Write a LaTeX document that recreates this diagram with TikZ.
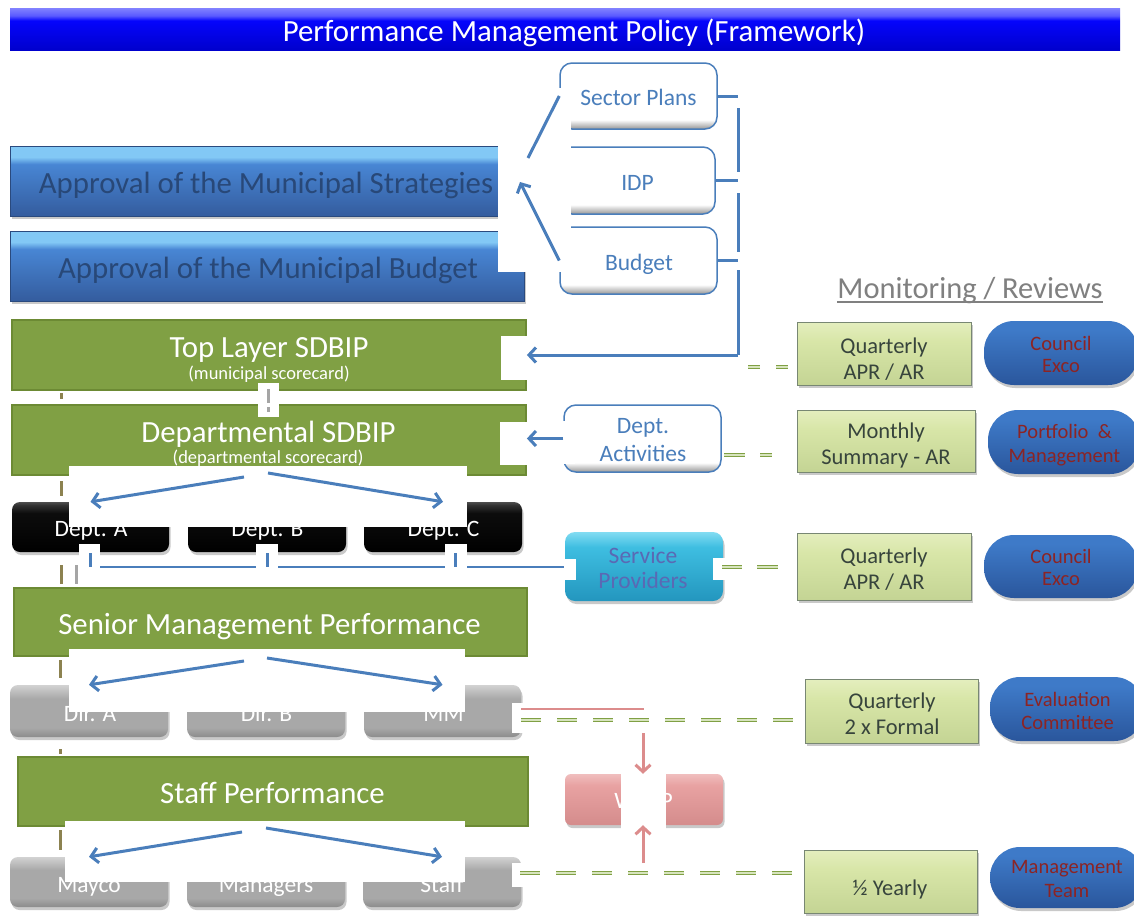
\documentclass[tikz,border=0pt]{standalone}
\usepackage{fontspec}
\setmainfont{Carlito}
\usetikzlibrary{shadows,arrows.meta}
\newcommand\fsz[2]{\fontsize{#1}{#2}\selectfont}
\newcommand\twoln[1]{\begin{tabular}[t]{@{}c@{}}#1\end{tabular}}
\definecolor{bnA}{RGB}{0,0,205}
\definecolor{bnB}{RGB}{5,5,252}
\definecolor{bnC}{RGB}{90,90,255}
\definecolor{bnD}{RGB}{130,130,255}
\definecolor{apA}{RGB}{52,92,158}
\definecolor{apB}{RGB}{72,134,212}
\definecolor{apC}{RGB}{130,200,245}
\definecolor{apT}{RGB}{40,72,120}
\definecolor{grA}{RGB}{128,160,68}
\definecolor{grB}{RGB}{108,138,52}
\definecolor{grL}{RGB}{215,228,190}
\definecolor{lnB}{RGB}{74,126,187}
\definecolor{lgA}{RGB}{196,212,148}
\definecolor{lgB}{RGB}{216,230,168}
\definecolor{lgC}{RGB}{228,238,190}
\definecolor{lgE}{RGB}{120,135,115}
\definecolor{lgT}{RGB}{55,68,60}
\definecolor{plA}{RGB}{42,86,156}
\definecolor{plB}{RGB}{62,122,200}
\definecolor{plT}{RGB}{140,36,36}
\definecolor{cyA}{RGB}{35,150,190}
\definecolor{cyB}{RGB}{62,190,225}
\definecolor{cyC}{RGB}{130,220,242}
\definecolor{cyT}{RGB}{90,105,180}
\definecolor{pkA}{RGB}{212,140,140}
\definecolor{pkB}{RGB}{232,162,162}
\definecolor{pkC}{RGB}{240,190,190}
\definecolor{pkL}{RGB}{220,140,140}
\definecolor{gyA}{RGB}{140,140,140}
\definecolor{gyB}{RGB}{168,168,168}
\definecolor{gyC}{RGB}{210,210,210}
\definecolor{tkO}{RGB}{140,130,80}
\definecolor{tkG}{RGB}{165,165,165}
\definecolor{moT}{RGB}{128,128,128}
\definecolor{wsh}{RGB}{150,150,150}
\pgfdeclareverticalshading{bannershade}{100bp}{color(0bp)=(bnA); color(25bp)=(bnA); color(60bp)=(bnB); color(66bp)=(bnC); color(75bp)=(bnD); color(100bp)=(bnD)}
\pgfdeclareverticalshading{apshade}{100bp}{color(0bp)=(apA); color(25bp)=(apA); color(62bp)=(apB); color(67bp)=(apC); color(75bp)=(apC); color(100bp)=(apC)}
\pgfdeclareverticalshading{wshade}{100bp}{color(0bp)=(wsh); color(25bp)=(wsh); color(32bp)=(white); color(100bp)=(white)}
\pgfdeclareverticalshading{blkshade}{100bp}{color(0bp)=(black); color(25bp)=(black); color(64bp)=(black!95!white); color(72bp)=(black!80!white); color(75bp)=(black!70!white); color(100bp)=(black!70!white)}
\pgfdeclareverticalshading{gyshade}{100bp}{color(0bp)=(gyA); color(25bp)=(gyA); color(34bp)=(gyB); color(62bp)=(gyB); color(75bp)=(gyC); color(100bp)=(gyC)}
\pgfdeclareverticalshading{lgshade}{100bp}{color(0bp)=(lgA); color(25bp)=(lgA); color(60bp)=(lgB); color(75bp)=(lgC); color(100bp)=(lgC)}
\pgfdeclareverticalshading{plshade}{100bp}{color(0bp)=(plA); color(25bp)=(plA); color(68bp)=(plB); color(75bp)=(plB); color(100bp)=(plB)}
\pgfdeclareverticalshading{cyshade}{100bp}{color(0bp)=(cyA); color(25bp)=(cyA); color(64bp)=(cyB); color(75bp)=(cyC); color(100bp)=(cyC)}
\pgfdeclareverticalshading{pkshade}{100bp}{color(0bp)=(pkA); color(25bp)=(pkA); color(64bp)=(pkB); color(75bp)=(pkC); color(100bp)=(pkC)}
\tikzset{
  shd/.style={drop shadow={shadow xshift=1.5pt, shadow yshift=-3pt, opacity=0.35, fill=black!60}},
  banner/.style={shade, shading=bannershade, draw=none, inner sep=0pt},
  titletxt/.style={text=white, font=\fsz{30.8}{34}, inner sep=0pt},
  apbox/.style={shade, shading=apshade, draw=apA!80!black, line width=0.6pt, inner sep=0pt, shd},
  aptxt/.style={text=apT, font=\fsz{30.8}{34}, inner sep=0pt},
  greenbox/.style={fill=grA, draw=grB, line width=1.8pt, inner sep=0pt},
  gtxt/.style={text=white, font=\fsz{30.8}{34}, inner sep=0pt},
  gsub/.style={text=white, font=\fsz{18.5}{20}, inner sep=0pt},
  wbox/.style={shade, shading=wshade, draw=lnB, line width=1.5pt, rounded corners=12pt, inner sep=0pt},
  wtxt/.style={text=lnB, font=\fsz{23.5}{26}, inner sep=0pt},
  blkbox/.style={shade, shading=blkshade, rounded corners=8pt, inner sep=0pt, shd},
  gybox/.style={shade, shading=gyshade, rounded corners=8pt, inner sep=0pt, shd},
  btxt/.style={text=white, font=\fsz{23.5}{26}, inner sep=0pt},
  lgbox/.style={shade, shading=lgshade, draw=lgE, line width=0.6pt, inner sep=0pt, shd},
  lgtxt/.style={text=lgT, font=\fsz{22.5}{26.5}, inner sep=0pt},
  pill/.style={shade, shading=plshade, rounded corners=30pt, inner sep=0pt, shd},
  pltxt/.style={text=plT, font=\fsz{20.5}{23}, inner sep=0pt},
  cybox/.style={shade, shading=cyshade, rounded corners=10pt, inner sep=0pt, shd},
  cytxt/.style={text=cyT, font=\fsz{23.5}{25}, inner sep=0pt},
  pkbox/.style={shade, shading=pkshade, rounded corners=6pt, inner sep=0pt, shd},
  montxt/.style={text=moT, font=\fsz{30.5}{34}, inner sep=0pt},
  patch/.style={fill=white, draw=none},
  conn/.style={draw=lnB, line width=3pt},
  arr/.style={conn, -{Straight Barb[length=7pt, width=15pt]}},
  gdash/.style={draw=grA, double=grL, double distance=1.6pt, line width=1.5pt},
  pline/.style={draw=pkL, line width=2.5pt},
  parr/.style={draw=pkL, line width=3pt, -{Straight Barb[length=7pt, width=15pt]}},
  tickO/.style={draw=tkO, line width=3pt},
  tickG/.style={draw=tkG, line width=3pt},
}
\begin{document}
\begin{tikzpicture}[x=1pt,y=-1pt]
\useasboundingbox (0,0) rectangle (1134,916);
\clip (0,0) rectangle (1134,916);
\fill[white] (0,0) rectangle (1134,916);

% ---------- banner ----------
\node[banner, minimum width=1110pt, minimum height=42pt] (ban) at (565,29) {};
\node[titletxt, anchor=base] (title) at (574,41) {Performance Management Policy (Framework)};

% ---------- approvals ----------
\node[apbox, minimum width=514pt, minimum height=70pt] (strat) at (267,181) {};
\node[aptxt, anchor=base] (stratT) at (266,193) {Approval of the Municipal Strategies};
\node[apbox, minimum width=514pt, minimum height=70pt] (budget) at (267,266) {};
\node[aptxt, anchor=base] (budgetT) at (268,278) {Approval of the Municipal Budget};

% ---------- plan boxes ----------
\node[wbox, minimum width=157pt, minimum height=66pt] (sector) at (638.5,96) {};
\node[wtxt, anchor=base] (sectorT) at (638.5,105) {Sector Plans};
\node[wbox, minimum width=155pt, minimum height=67pt] (idp) at (637.5,180.5) {};
\node[wtxt, anchor=base] (idpT) at (637.5,190) {IDP};
\node[wbox, minimum width=157pt, minimum height=67pt] (budgetb) at (638.5,260.5) {};
\node[wtxt, anchor=base] (budgetbT) at (639,270) {Budget};

% ---------- monitoring heading ----------
\node[montxt, anchor=base] (mon) at (970,298) {Monitoring / Reviews};
\draw[moT, line width=1.5pt] ([yshift=-4pt]mon.base west) -- ([yshift=-4pt]mon.base east);

% ---------- green layer boxes ----------
\node[greenbox, minimum width=514pt, minimum height=70pt] (toplayer) at (269,355) {};
\node[gtxt, anchor=base] (toplayerT) at (269,357) {Top Layer SDBIP};
\node[gsub, anchor=base] (toplayerS) at (269,379) {(municipal scorecard)};
\node[greenbox, minimum width=514pt, minimum height=70pt] (dept) at (269,440) {};
\node[gtxt, anchor=base] (deptT) at (268.5,442) {Departmental SDBIP};
\node[gsub, anchor=base] (deptS) at (268,463) {(departmental scorecard)};

\node[blkbox, minimum width=157pt, minimum height=50pt] (deptA) at (90.5,527) {};
\node[btxt, anchor=base] (deptAT) at (91,536) {Dept. A};
\node[blkbox, minimum width=158pt, minimum height=50pt] (deptB) at (267,527) {};
\node[btxt, anchor=base] (deptBT) at (267.5,536) {Dept. B};
\node[blkbox, minimum width=158pt, minimum height=50pt] (deptC) at (443,527) {};
\node[btxt, anchor=base] (deptCT) at (443.5,536) {Dept. C};

\node[greenbox, minimum width=513pt, minimum height=68pt] (senior) at (270.5,622) {};
\node[gtxt, anchor=base] (seniorT) at (269.5,634) {Senior Management Performance};

\node[gybox, minimum width=158pt, minimum height=52pt] (dirA) at (89,711) {};
\node[btxt, anchor=base] (dirAT) at (90,721) {Dir. A};
\node[gybox, minimum width=158pt, minimum height=52pt] (dirB) at (266,711) {};
\node[btxt, anchor=base] (dirBT) at (266.5,721) {Dir. B};
\node[gybox, minimum width=157pt, minimum height=52pt] (mm) at (442.5,711) {};
\node[btxt, anchor=base] (mmT) at (443.5,721) {MM};

\node[greenbox, minimum width=510pt, minimum height=69pt] (staff) at (273,791.5) {};
\node[gtxt, anchor=base] (staffT) at (272.5,803) {Staff Performance};

\node[gybox, minimum width=158pt, minimum height=50pt] (mayco) at (89,882) {};
\node[btxt, anchor=base] (maycoT) at (89,892) {Mayco};
\node[gybox, minimum width=158pt, minimum height=50pt] (managers) at (266,882) {};
\node[btxt, anchor=base] (managersT) at (266,892) {Managers};
\node[gybox, minimum width=158pt, minimum height=50pt] (staffb) at (442,882) {};
\node[btxt, anchor=base] (staffbT) at (442,892) {Staff};

% ---------- middle column ----------
\node[wbox, minimum width=157pt, minimum height=67pt] (deptact) at (642.5,438.5) {};
\node[wtxt, font=\fsz{23.5}{28}, anchor=base] (deptactT) at (643,433) {\twoln{Dept.\\Activities}};
\node[cybox, minimum width=158pt, minimum height=69pt] (service) at (644,566.5) {};
\node[cytxt, anchor=base] (serviceT) at (643,563) {\twoln{Service\\Providers}};
\node[pkbox, minimum width=158pt, minimum height=51pt] (wdsp) at (644,799.5) {};
\node[btxt, anchor=base] (wdspT) at (643.5,808) {WDSP};

% ---------- review boxes ----------
\node[lgbox, minimum width=174pt, minimum height=63pt] (q1) at (884,353.5) {};
\node[lgtxt, anchor=base] (q1T) at (884,353) {\twoln{Quarterly\\APR / AR}};
\node[lgbox, minimum width=178pt, minimum height=62pt] (m1) at (886,441) {};
\node[lgtxt, anchor=base] (m1T) at (886,438) {\twoln{Monthly\\Summary - AR}};
\node[lgbox, minimum width=174pt, minimum height=67pt] (q2) at (884,566.5) {};
\node[lgtxt, anchor=base] (q2T) at (884,563) {\twoln{Quarterly\\APR / AR}};
\node[lgbox, minimum width=173pt, minimum height=64pt] (q3) at (891.5,711) {};
\node[lgtxt, anchor=base] (q3T) at (892,708) {\twoln{Quarterly\\2 x Formal}};
\node[lgbox, minimum width=173pt, minimum height=63pt] (half) at (890.5,881.5) {};
\node[lgtxt, anchor=base] (halfT) at (890,895) {½ Yearly};

\node[pill, minimum width=154pt, minimum height=64pt] (ce1) at (1061,353) {};
\node[pltxt, font=\fsz{20.5}{22}, anchor=base] (ce1T) at (1061,350) {\twoln{Council\\Exco}};
\node[pill, minimum width=152pt, minimum height=64pt] (pm) at (1064,442) {};
\node[pltxt, font=\fsz{20.5}{24}, anchor=base] (pmT) at (1064.5,438) {\twoln{Portfolio~~\&\\Management}};
\node[pill, minimum width=154pt, minimum height=63pt] (ce2) at (1061,566.5) {};
\node[pltxt, font=\fsz{20.5}{22}, anchor=base] (ce2T) at (1061,563) {\twoln{Council\\Exco}};
\node[pill, minimum width=154pt, minimum height=64pt] (ec) at (1067,709) {};
\node[pltxt, anchor=base] (ecT) at (1067.5,706) {\twoln{Evaluation\\Committee}};
\node[pill, minimum width=154pt, minimum height=61pt] (mt) at (1067,877.5) {};
\node[pltxt, font=\fsz{20.5}{24}, anchor=base] (mtT) at (1067,873) {\twoln{Management\\Team}};

% ---------- line under patches ----------
\coordinate (hl) at (100,567);
\draw[conn, line width=2.6pt] (hl) -- (service.west |- hl);

% ---------- white patches ----------
\fill[patch] (498,88) rectangle (571,272);
\fill[patch] (501,336) rectangle (528,380);
\fill[patch] (500,422) rectangle (528,465);
\fill[patch] (258,383) rectangle (279,417);
\fill[patch] (69,466) rectangle (467,527);
\fill[patch] (79,544) rectangle (100,572);
\fill[patch] (256,544) rectangle (278,572);
\fill[patch] (445,544) rectangle (467,572);
\fill[patch] (563,421) rectangle (575,464);
\fill[patch] (564,559) rectangle (576,580);
\fill[patch] (713,558) rectangle (797,580);
\fill[patch] (69,649) rectangle (465,712);
\fill[patch] (65,821) rectangle (465,882);
\fill[patch] (512,703) rectangle (645,733);
\fill[patch] (512,863) rectangle (650,887);
\fill[patch] (621,773) rectangle (666,835);

% ---------- plan connectors ----------
\coordinate (c1) at (528,158);
\coordinate (c2) at (520,182);
\draw[conn] (sector.west) -- (c1);
\draw[arr] (budgetb.west) -- (c2);
\coordinate (vtop) at (738,108);
\coordinate (vbot) at (738,355);
\draw[conn] (vtop) -- (vbot);
\fill[patch] (733,172) rectangle (743,193);
\fill[patch] (733,252) rectangle (743,270);
\draw[conn] (sector.east) -- (sector.east -| vtop);
\draw[conn] (idp.east) -- (idp.east -| vtop);
\draw[conn] (budgetb.east) -- (budgetb.east -| vtop);
\draw[arr] (vbot) -- (toplayer.east);
\draw[arr] (deptact.west) -- (dept.east |- deptact.west);

% ---------- fan-out arrows ----------
\coordinate (fa1) at (244,477);
\coordinate (fa2) at (268,473);
\draw[arr] (fa1) -- (deptA.north);
\draw[arr] (fa2) -- (deptC.north);
\coordinate (fb1) at (244,661);
\coordinate (fb2) at (267,658);
\draw[arr] (fb1) -- (dirA.north);
\draw[arr] (fb2) -- (mm.north);
\coordinate (fc1) at (242,832);
\coordinate (fc2) at (266,828);
\draw[arr] (fc1) -- (mayco.north);
\draw[arr] (fc2) -- (staffb.north);

% ---------- blue ticks to service line ----------
\coordinate (tA) at (90,553);
\coordinate (tB) at (267,553);
\coordinate (tC) at (455,553);
\draw[conn] (tA) -- ++(0,14);
\draw[conn] (tB) -- ++(0,14);
\draw[conn] (tC) -- ++(0,14);

% ---------- green double dashes ----------
\coordinate (g1) at (748,367);
\draw[gdash, dash pattern=on 12pt off 16pt] (g1) -- (q1.west |- g1);
\coordinate (g2) at (724,455);
\draw[gdash, dash pattern=on 21pt off 15pt on 12pt off 60pt] (g2) -- (m1.west |- g2);
\coordinate (g3) at (722,567);
\draw[gdash, dash pattern=on 20pt off 15pt on 21pt off 60pt] (g3) -- (q2.west |- g3);
\coordinate (g4) at (521,720);
\draw[gdash, dash pattern=on 20pt off 16pt] (g4) -- (q3.west |- g4);
\coordinate (g5) at (520,873);
\draw[gdash, dash pattern=on 20pt off 16pt] (g5) -- (half.west |- g5);

% ---------- pink WDSP connectors ----------
\coordinate (p1) at (521,709);
\coordinate (p2) at (644,709);
\draw[pline] (p1) -- (p2);
\coordinate (p3) at (643,733);
\draw[parr] (p3) -- (p3 |- wdsp.north);
\coordinate (p4) at (643,863);
\draw[parr] (p4) -- (p4 |- wdsp.south);

% ---------- small dashed remnants ----------
\draw[tickO] (61,393) -- (61,399);
\draw[tickO] (61,481) -- (61,496);
\draw[tickO] (61,565) -- (61,584);
\draw[tickG] (76,565) -- (76,584);
\draw[tickO] (60,660) -- (60,678);
\draw[tickO] (60,749) -- (60,754);
\draw[tickO] (60,830) -- (60,850);
\draw[tickG] (268,389) -- (268,403);
\draw[tickG] (268,407) -- (268,412);
\end{tikzpicture}
\end{document}
